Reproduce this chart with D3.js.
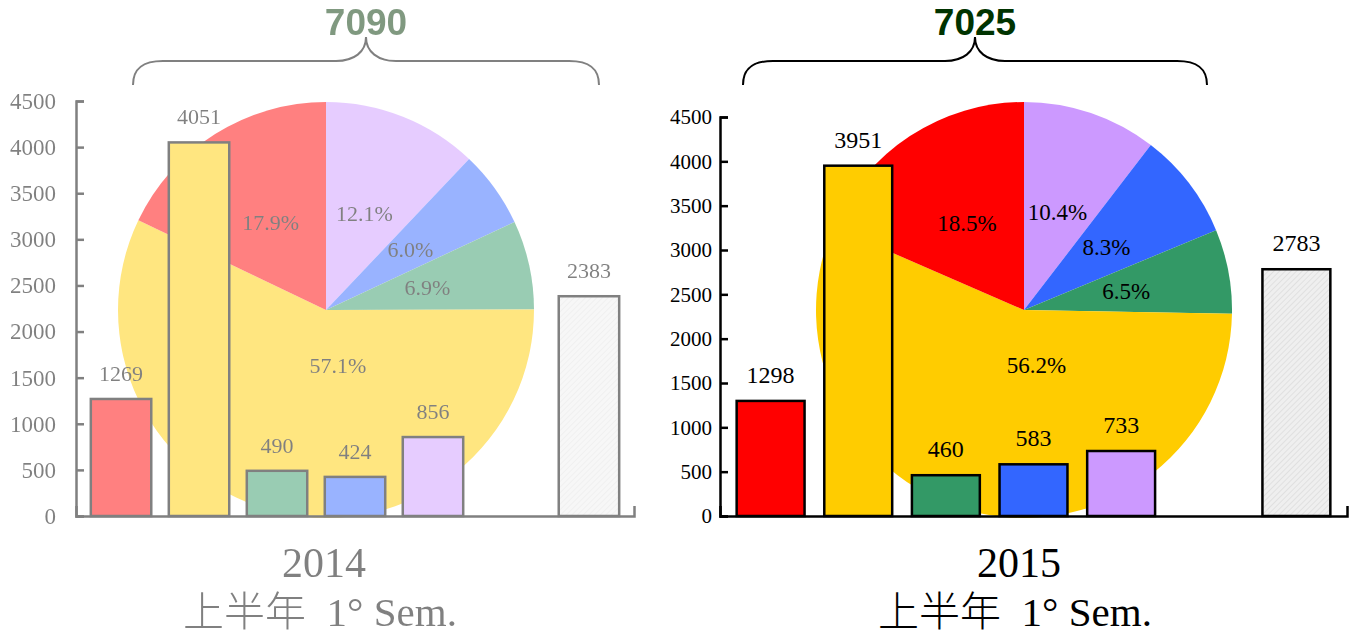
<!DOCTYPE html>
<html>
<head>
<meta charset="utf-8">
<script src="https://cdn.jsdelivr.net/npm/d3@7"></script>
<style>
  body { margin: 0; background: #fff; }
  text { font-family: 'Liberation Serif', 'Times New Roman', serif; }
</style>
</head>
<body>
<svg id="chart"></svg>
<script>
// DATA
var categories = ['A', 'B', 'C', 'D', 'E', '', 'F'];
var values2014 = [1269, 4051, 490, 424, 856];
var values2015 = [1298, 3951, 460, 583, 733];
var other2014 = 2383;
var other2015 = 2783;
var yTicks = [0, 500, 1000, 1500, 2000, 2500, 3000, 3500, 4000, 4500];
var years = ['2014', '2015'];
var subTitle = '上半年  1° Sem.';

var colors = ['#FF0000', '#FFCC00', '#339966', '#3366FF', '#CC99FF'];

var serif = "'Liberation Serif', 'Times New Roman', serif";

//SVG SETUP
var w = 1359,
    h = 637;

var svg = d3.select('#chart')
    .attr('width', w)
    .attr('height', h);

var defs = svg.append('defs');
var hatch = defs.append('pattern')
    .attr('id', 'hatch')
    .attr('width', 4)
    .attr('height', 4)
    .attr('patternUnits', 'userSpaceOnUse')
    .attr('patternTransform', 'rotate(45)');
hatch.append('rect')
    .attr('width', 4)
    .attr('height', 4)
    .attr('fill', '#EFEFEF');
hatch.append('rect')
    .attr('width', 1)
    .attr('height', 4)
    .attr('fill', '#E0E0E0');

// panel layouts (left one is the faded 2014 copy)
var panels = [
    {values: values2014, other: other2014, year: years[0],
     x0: 76, x1: 634, yTop: 101, yBottom: 516,
     cx: 326, cy: 310, r: 208, bx0: 133, bx1: 599, titleX: 320,
     opacity: 0.5, tickFont: 23, tickPad: 20, labelFont: 22, pieFont: 22},
    {values: values2015, other: other2015, year: years[1],
     x0: 720, x1: 1347, yTop: 117, yBottom: 516,
     cx: 1024, cy: 310, r: 208, bx0: 743, bx1: 1207, titleX: 1015,
     opacity: 1, tickFont: 21, tickPad: 8, labelFont: 24, pieFont: 23}
];

panels.forEach(drawPanel);

function drawPanel(p) {
    var g = svg.append('g').attr('opacity', p.opacity);

    var total = d3.sum(p.values);
    var barData = p.values.map(function(v, i) {
        return {key: categories[i], v: v, color: colors[i]};
    });
    barData.push({key: categories[6], v: p.other, color: 'url(#hatch)'});

    var x = d3.scaleBand()
        .domain(categories)
        .range([p.x0, p.x1])
        .paddingInner(0.225)
        .paddingOuter(0.19);

    var y = d3.scaleLinear()
        .domain([0, 4500])
        .range([p.yBottom, p.yTop]);

    //PIE (clockwise from 12 o'clock, reverse of bar order)
    var pieData = barData.slice(0, 5).reverse();
    var pie = d3.pie().sort(null).value(function(d) { return d.v; });
    var arcs = pie(pieData);
    var arc = d3.arc().innerRadius(0).outerRadius(p.r);
    var maxV = d3.max(p.values);

    var pieG = g.append('g')
        .attr('transform', 'translate(' + p.cx + ',' + p.cy + ')');

    pieG.selectAll('path')
        .data(arcs)
        .enter()
        .append('path')
        .attr('d', arc)
        .attr('fill', function(d) { return d.data.color; });

    pieG.selectAll('text')
        .data(arcs)
        .enter()
        .append('text')
        .attr('transform', function(d) {
            var a = (d.startAngle + d.endAngle) / 2;
            var rr = p.r * 0.5;
            if (d.data.v === maxV) {
                a = a - 25 * Math.PI / 180;
                rr = p.r * 0.27;
            }
            return 'translate(' + (Math.sin(a) * rr) + ',' + (-Math.cos(a) * rr) + ')';
        })
        .attr('text-anchor', 'middle')
        .attr('dy', '0.35em')
        .style('font-family', serif)
        .attr('font-size', p.pieFont)
        .attr('fill', '#000')
        .text(function(d) { return (d.data.v / total * 100).toFixed(1) + '%'; });

    //BARS
    g.selectAll('.bar')
        .data(barData)
        .enter()
        .append('rect')
        .attr('class', 'bar')
        .attr('x', function(d) { return x(d.key); })
        .attr('y', function(d) { return y(d.v); })
        .attr('width', x.bandwidth())
        .attr('height', function(d) { return y(0) - y(d.v); })
        .attr('fill', function(d) { return d.color; })
        .attr('stroke', '#000')
        .attr('stroke-width', 2.5);

    g.selectAll('.barLabel')
        .data(barData)
        .enter()
        .append('text')
        .attr('class', 'barLabel')
        .attr('x', function(d) { return x(d.key) + x.bandwidth() / 2; })
        .attr('y', function(d) { return y(d.v) - 18; })
        .attr('text-anchor', 'middle')
        .style('font-family', serif)
        .attr('font-size', p.labelFont)
        .text(function(d) { return d.v; });

    //AXES
    var yAxis = g.append('g')
        .attr('transform', 'translate(' + p.x0 + ',0)')
        .call(d3.axisLeft(y)
            .tickValues(yTicks)
            .tickFormat(d3.format('d'))
            .tickSizeInner(-8)
            .tickSizeOuter(-8)
            .tickPadding(p.tickPad));
    yAxis.selectAll('path, line')
        .attr('stroke', '#000')
        .attr('stroke-width', 2.5);
    yAxis.selectAll('text')
        .style('font-family', serif)
        .attr('font-size', p.tickFont)
        .attr('fill', '#000');

    var xAxis = g.append('g')
        .attr('transform', 'translate(0,' + p.yBottom + ')')
        .call(d3.axisBottom(x)
            .tickValues([])
            .tickSizeOuter(-10));
    xAxis.select('.domain')
        .attr('stroke', '#000')
        .attr('stroke-width', 2.5);

    //BRACE + TOTAL
    var mx = (p.bx0 + p.bx1) / 2;
    var brace = d3.path();
    brace.moveTo(p.bx0, 85);
    brace.bezierCurveTo(p.bx0, 68, p.bx0 + 10, 61, p.bx0 + 30, 61);
    brace.lineTo(mx - 30, 61);
    brace.bezierCurveTo(mx - 12, 61, mx, 52, mx, 37);
    brace.bezierCurveTo(mx, 52, mx + 12, 61, mx + 30, 61);
    brace.lineTo(p.bx1 - 30, 61);
    brace.bezierCurveTo(p.bx1 - 10, 61, p.bx1, 68, p.bx1, 85);

    g.append('path')
        .attr('d', brace.toString())
        .attr('fill', 'none')
        .attr('stroke', '#000')
        .attr('stroke-width', 2);

    g.append('text')
        .attr('x', mx)
        .attr('y', 35)
        .attr('text-anchor', 'middle')
        .style('font-family', "'Liberation Sans', Arial, sans-serif")
        .attr('font-weight', 'bold')
        .attr('font-size', 37)
        .attr('fill', '#003300')
        .text(total);

    //TITLES
    g.append('text')
        .attr('x', p.titleX + 4)
        .attr('y', 577)
        .attr('text-anchor', 'middle')
        .style('font-family', serif)
        .attr('font-size', 42)
        .text(p.year);

    g.append('text')
        .attr('x', p.titleX)
        .attr('y', 626)
        .attr('text-anchor', 'middle')
        .attr('font-size', 41)
        .attr('font-weight', 300)
        .style('white-space', 'pre')
        .style('font-family', "'Liberation Serif', 'Noto Sans CJK TC', serif")
        .text(subTitle);
}
</script>
</body>
</html>
